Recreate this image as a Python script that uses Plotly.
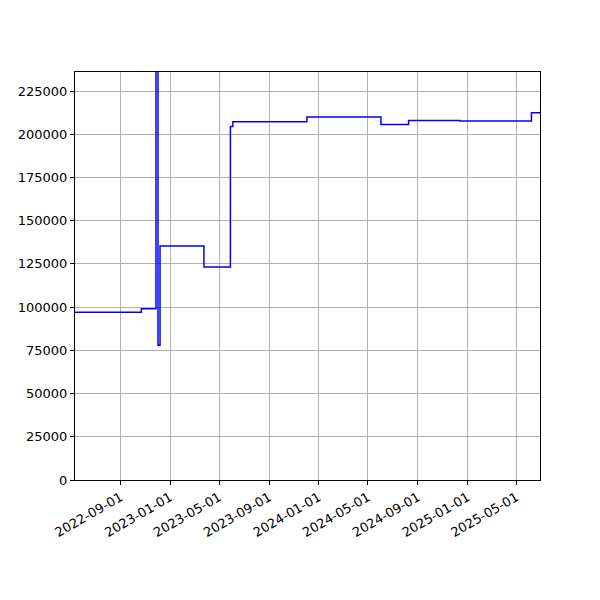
import plotly.graph_objects as go

# step changes (date the value starts, value)
dates = [
    "2022-05-12", "2022-10-22", "2022-11-27", "2022-12-02", "2022-12-07",
    "2023-03-25", "2023-05-29", "2023-06-04", "2023-12-03", "2024-06-02",
    "2024-08-09", "2024-12-13", "2025-06-07", "2025-06-28",
]
values = [
    97000, 99000, 245000, 78000, 135300,
    123200, 204500, 207200, 209900, 205700,
    208000, 207600, 212400, 212400,
]

tick_dates = ["2022-09-01", "2023-01-01", "2023-05-01", "2023-09-01", "2024-01-01",
              "2024-05-01", "2024-09-01", "2025-01-01", "2025-05-01"]
y_ticks = [0, 25000, 50000, 75000, 100000, 125000, 150000, 175000, 200000, 225000]

fig = go.Figure()
fig.add_trace(go.Scatter(x=dates, y=values, mode="lines", line_shape="hv",
                         line=dict(color="#0000ff", width=1.5)))

axis_style = dict(showline=True, linecolor="black", linewidth=1, mirror=True,
                  ticks="outside", ticklen=4, tickcolor="black", automargin=False,
                  showgrid=True, gridcolor="#b0b0b0", gridwidth=0.8, zeroline=False)

fig.update_xaxes(type="date", range=["2022-05-12", "2025-06-28"],
                 tickvals=tick_dates, ticktext=tick_dates, tickangle=-30, **axis_style)
fig.update_yaxes(range=[0, 236000], tickvals=y_ticks, ticktext=[str(v) for v in y_ticks],
                 **axis_style)

# the page puts an 8px body margin around the figure, so margins are trimmed to match
fig.update_layout(
    width=600, height=600,
    margin=dict(l=67, r=68, t=64, b=128),
    plot_bgcolor="white", paper_bgcolor="white",
    showlegend=False,
    font=dict(family="DejaVu Sans", size=13, color="black"),
)

fig.write_html("out.html")
